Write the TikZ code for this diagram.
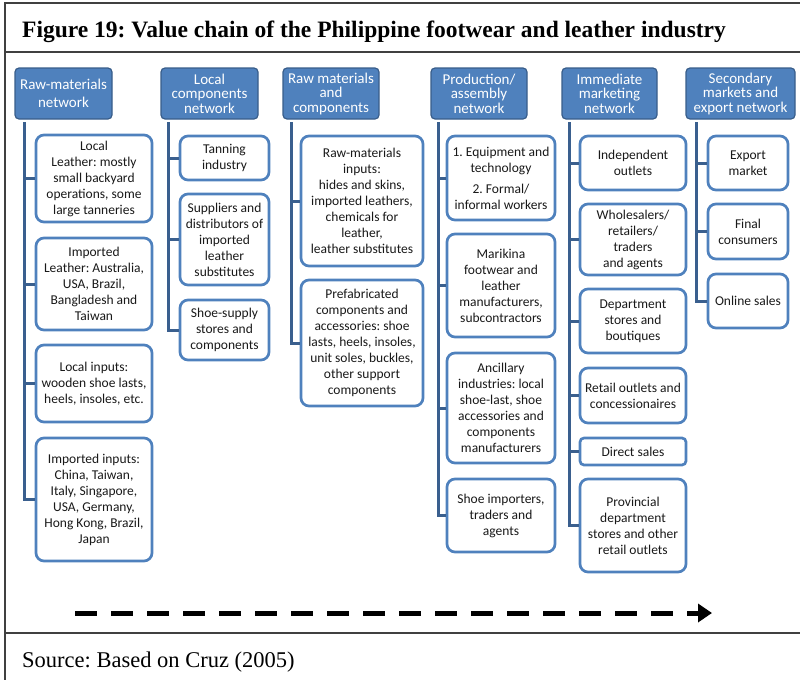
\documentclass[tikz,border=0pt]{standalone}
\usepackage{fontspec}
\setmainfont{Liberation Serif}
\setsansfont{Carlito}
\usetikzlibrary{arrows.meta}
\frenchspacing

\definecolor{hdrfill}{RGB}{79,129,189}
\definecolor{hdrdraw}{RGB}{56,93,138}
\definecolor{boxdraw}{RGB}{79,129,189}
\definecolor{trunkcol}{RGB}{58,95,142}
\definecolor{framecol}{RGB}{64,64,64}

\tikzset{
    hdr/.style={draw=hdrdraw, fill=hdrfill, line width=1.2pt, rounded corners=4pt,
        text=white, align=center, inner sep=0pt, minimum height=51pt,
        font=\sffamily\fontsize{15}{14.5}\selectfont},
    box/.style={draw=boxdraw, fill=white, line width=2.7pt, rounded corners=8pt,
        align=center, inner sep=0pt, text=black!90,
        font=\sffamily\fontsize{13.5}{16}\selectfont},
    trunk/.style={draw=trunkcol, line width=3pt},
    flow/.style={line width=5pt, dash pattern=on 22pt off 14pt,
        -{Triangle[length=14pt,width=18pt]}}
}

\begin{document}
\begin{tikzpicture}[x=1pt,y=-1pt]
    \useasboundingbox (0,0) rectangle (800,680);

    % Frame and title
    \draw[framecol, line width=1.5pt] (800,3) -- (5,3) -- (5,680);
    \draw[framecol, line width=1.5pt] (5,52) -- (800,52);
    \draw[framecol, line width=1.5pt] (5,633) -- (800,633);
    \node[anchor=base west, inner sep=0pt, font=\bfseries\fontsize{23.5}{24}\selectfont] (title) at (22,37)
        {Figure 19: Value chain of the Philippine footwear and leather industry};
    \node[anchor=base west, inner sep=0pt, font=\fontsize{22.5}{22}\selectfont] (source) at (22,667)
        {Source: Based on Cruz (2005)};

    % Headers
    \node[hdr, minimum width=97pt] (h1) at (63.5,93.5) {Raw-materials\\[3pt]network};
    \node[hdr, minimum width=97pt] (h2) at (209.5,93.5) {Local\\components\\network};
    \node[hdr, minimum width=96pt] (h3) at (331,93.5) {Raw materials\\and\\components};
    \node[hdr, minimum width=96pt] (h4) at (479,93.5) {Production/\\assembly\\network};
    \node[hdr, minimum width=95pt] (h5) at (609.5,93.5) {Immediate\\marketing\\network};
    \node[hdr, minimum width=109pt] (h6) at (740.5,93.5) {Secondary\\markets and\\export network};

    % Raw-materials network
    \coordinate (t1) at (24,122);
    \node[box, minimum width=116pt, minimum height=87pt] (b1a) at (94,178.5)
        {Local\\Leather: mostly\\small backyard\\operations, some\\large tanneries};
    \node[box, minimum width=116pt, minimum height=92pt] (b1b) at (94,284)
        {Imported\\Leather: Australia,\\USA, Brazil,\\Bangladesh and\\Taiwan};
    \node[box, minimum width=116pt, minimum height=77pt] (b1c) at (94,383.5)
        {Local inputs:\\wooden shoe lasts,\\heels, insoles, etc.};
    \node[box, minimum width=116pt, minimum height=123pt] (b1d) at (94,499.5)
        {Imported inputs:\\China, Taiwan,\\Italy, Singapore,\\USA, Germany,\\Hong Kong, Brazil,\\Japan};
    \draw[trunk] (t1) |- (b1d.west);
    \foreach \b in {b1a,b1b,b1c}
        \draw[trunk] (t1 |- \b.west) -- (\b.west);

    % Local components network
    \coordinate (t2) at (168,122);
    \node[box, minimum width=89pt, minimum height=44pt] (b2a) at (224.5,158)
        {Tanning\\industry};
    \node[box, minimum width=89pt, minimum height=91pt] (b2b) at (224.5,239.5)
        {Suppliers and\\distributors of\\imported\\leather\\substitutes};
    \node[box, minimum width=89pt, minimum height=60pt] (b2c) at (224.5,330)
        {Shoe-supply\\stores and\\components};
    \draw[trunk] (t2) |- (b2c.west);
    \foreach \b in {b2a,b2b}
        \draw[trunk] (t2 |- \b.west) -- (\b.west);

    % Raw materials and components
    \coordinate (t3) at (291,122);
    \node[box, minimum width=122pt, minimum height=130pt] (b3a) at (362,201)
        {Raw-materials\\inputs:\\hides and skins,\\imported leathers,\\chemicals for\\leather,\\leather substitutes};
    \node[box, minimum width=122pt, minimum height=126pt] (b3b) at (362,343)
        {Prefabricated\\components and\\accessories: shoe\\lasts, heels, insoles,\\unit soles, buckles,\\other support\\components};
    \draw[trunk] (t3) |- (b3b.west);
    \draw[trunk] (t3 |- b3a.west) -- (b3a.west);

    % Production/assembly network
    \coordinate (t4) at (438,122);
    \node[box, minimum width=108pt, minimum height=84pt] (b4a) at (501,178)
        {1. Equipment and\\technology\\[5pt]2. Formal/\\informal workers};
    \node[box, minimum width=108pt, minimum height=103pt] (b4b) at (501,285.5)
        {Marikina\\footwear and\\leather\\manufacturers,\\subcontractors};
    \node[box, minimum width=108pt, minimum height=110pt] (b4c) at (501,408)
        {Ancillary\\industries: local\\shoe-last, shoe\\accessories and\\components\\manufacturers};
    \node[box, minimum width=108pt, minimum height=73pt] (b4d) at (501,515.5)
        {Shoe importers,\\traders and\\agents};
    \draw[trunk] (t4) |- (b4d.west);
    \foreach \b in {b4a,b4b,b4c}
        \draw[trunk] (t4 |- \b.west) -- (\b.west);

    % Immediate marketing network
    \coordinate (t5) at (569,122);
    \node[box, minimum width=106pt, minimum height=54pt] (b5a) at (633,163)
        {Independent\\outlets};
    \node[box, minimum width=106pt, minimum height=71pt] (b5b) at (633,239.5)
        {Wholesalers/\\retailers/\\traders\\and agents};
    \node[box, minimum width=106pt, minimum height=64pt] (b5c) at (633,321)
        {Department\\stores and\\boutiques};
    \node[box, minimum width=106pt, minimum height=55pt] (b5d) at (633,395.5)
        {Retail outlets and\\concessionaires};
    \node[box, minimum width=106pt, minimum height=27pt, rounded corners=4pt] (b5e) at (633,451.5)
        {Direct sales};
    \node[box, minimum width=106pt, minimum height=93pt] (b5f) at (633,525.5)
        {Provincial\\department\\stores and other\\retail outlets};
    \draw[trunk] (t5) |- (b5f.west);
    \foreach \b in {b5a,b5b,b5c,b5d,b5e}
        \draw[trunk] (t5 |- \b.west) -- (\b.west);

    % Secondary markets and export network
    \coordinate (t6) at (696,122);
    \node[box, minimum width=80pt, minimum height=54pt] (b6a) at (748,163)
        {Export\\market};
    \node[box, minimum width=80pt, minimum height=55pt] (b6b) at (748,231.5)
        {Final\\consumers};
    \node[box, minimum width=80pt, minimum height=54pt] (b6c) at (748,301)
        {Online sales};
    \draw[trunk] (t6) |- (b6c.west);
    \foreach \b in {b6a,b6b}
        \draw[trunk] (t6 |- \b.west) -- (\b.west);

    % Direction of the chain
    \coordinate (fa) at (75,613);
    \coordinate (fb) at (712,613);
    \draw[flow] (fa) -- (fb);
\end{tikzpicture}
\end{document}
